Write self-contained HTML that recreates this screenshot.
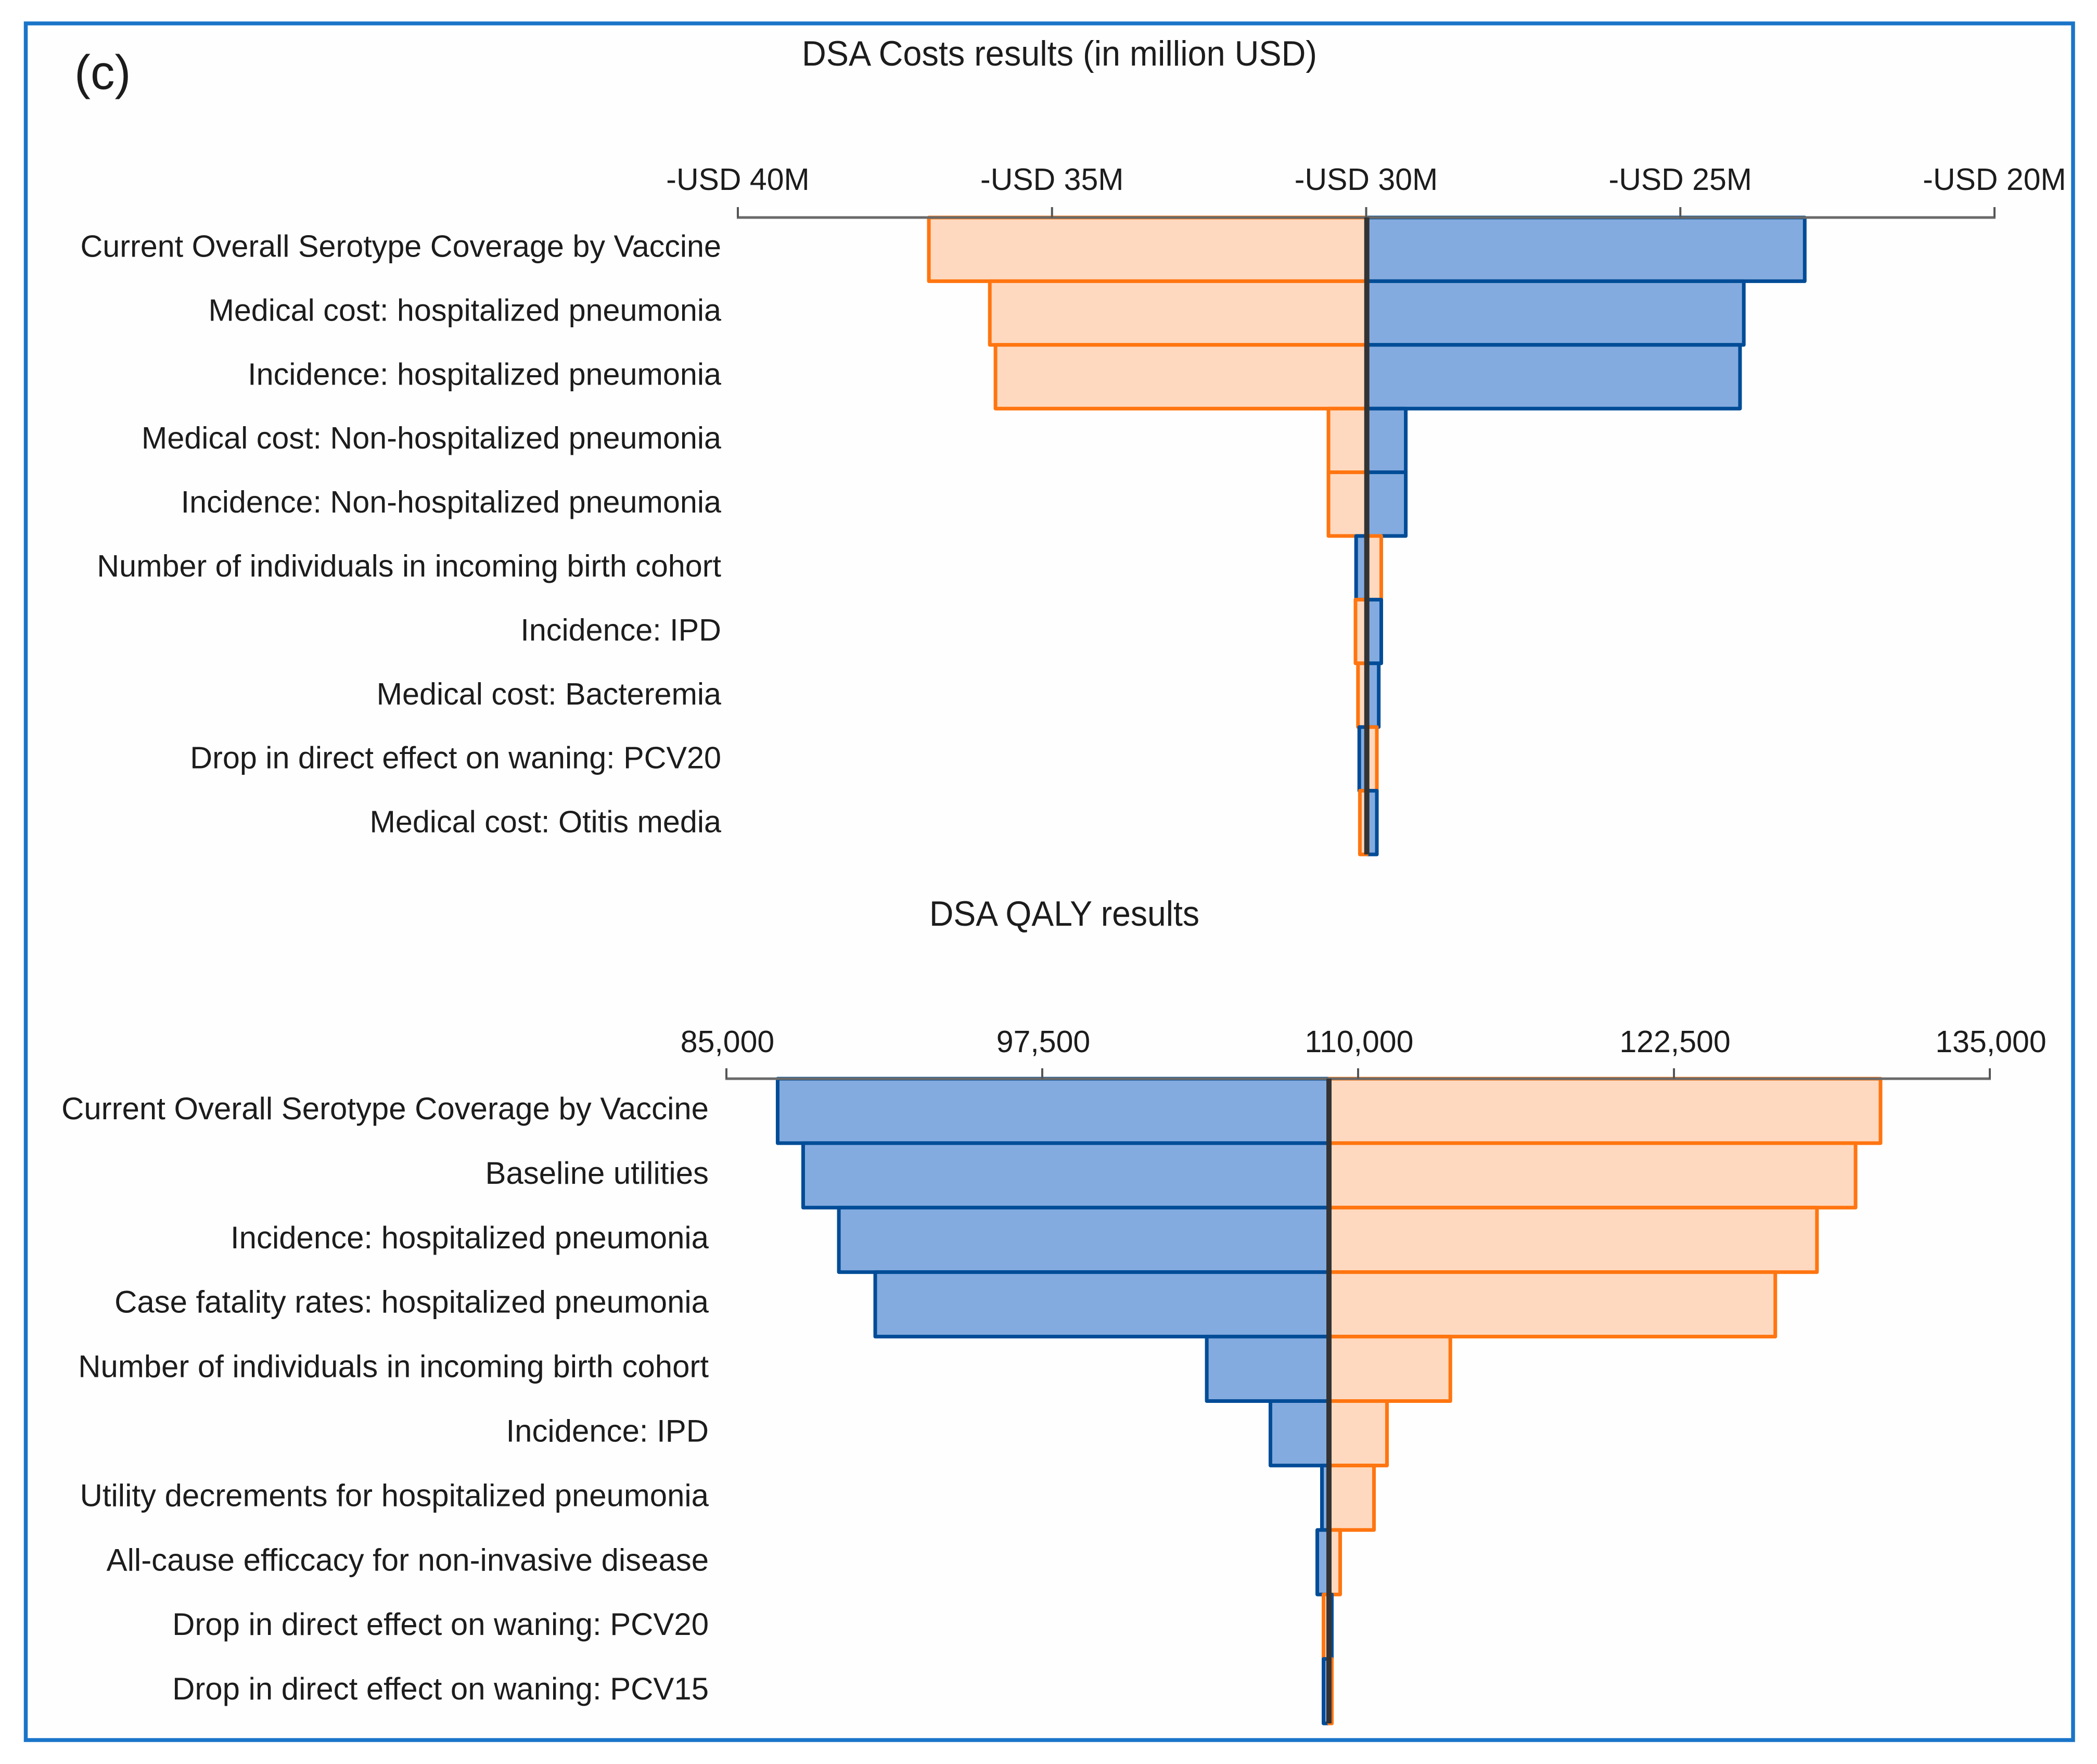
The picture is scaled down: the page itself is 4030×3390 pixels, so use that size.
<!DOCTYPE html>
<html lang="en">
<head>
<meta charset="utf-8">
<title>DSA tornado charts</title>
<style>
html,body{margin:0;padding:0;background:#fff;width:4030px;height:3390px;overflow:hidden}
svg{display:block}
text{font-family:"Liberation Sans",Arial,sans-serif;fill:#1c1c1c}
</style>
</head>
<body>
<svg id="fig" xmlns="http://www.w3.org/2000/svg" width="4030" height="3390" viewBox="0 0 4030 3390">
  <rect x="0" y="0" width="4030" height="3390" fill="#ffffff"/>
  <rect x="49.5" y="45" width="3934.5" height="3299" fill="#fefefe" stroke="#1a75c9" stroke-width="7.5"/>
  <text x="143" y="171" font-size="93">(c)</text>
  <text x="1541" y="126" font-size="68" textLength="990" lengthAdjust="spacingAndGlyphs">DSA Costs results (in million USD)</text>
  <text x="1786" y="1779" font-size="68" textLength="519" lengthAdjust="spacingAndGlyphs">DSA QALY results</text>
  <g id="cost-chart"></g>
  <g id="qaly-chart"></g>
</svg>
<script>
// Cost chart data (USD millions)
const costLabels = ["Current Overall Serotype Coverage by Vaccine","Medical cost: hospitalized pneumonia","Incidence: hospitalized pneumonia","Medical cost: Non-hospitalized pneumonia","Incidence: Non-hospitalized pneumonia","Number of individuals in incoming birth cohort","Incidence: IPD","Medical cost: Bacteremia","Drop in direct effect on waning: PCV20","Medical cost: Otitis media"];
const costOrange = [-36.96,-35.99,-35.90,-30.60,-30.60,-29.76,-30.17,-30.13,-29.83,-30.10];
const costBlue = [-23.02,-23.99,-24.05,-29.37,-29.37,-30.16,-29.76,-29.80,-30.11,-29.83];
const costBase = -29.99;
const costTicks = [-40,-35,-30,-25,-20];
const costTickLabels = ["-USD 40M","-USD 35M","-USD 30M","-USD 25M","-USD 20M"];

// QALY chart data
const qalyLabels = ["Current Overall Serotype Coverage by Vaccine","Baseline utilities","Incidence: hospitalized pneumonia","Case fatality rates: hospitalized pneumonia","Number of individuals in incoming birth cohort","Incidence: IPD","Utility decrements for hospitalized pneumonia","All-cause efficcacy for non-invasive disease","Drop in direct effect on waning: PCV20","Drop in direct effect on waning: PCV15"];
const qalyBlue = [87028,88037,89450,90890,104010,106530,108569,108384,108960,108631];
const qalyOrange = [130675,129687,128160,126510,113650,111143,110628,109290,108631,108960];
const qalyBase = 108847;
const qalyTicks = [85000,97500,110000,122500,135000];
const qalyTickLabels = ["85,000","97,500","110,000","122,500","135,000"];

const NS = "http://www.w3.org/2000/svg";
function make(parent, tag, attrs, name) {
  const el = document.createElementNS(NS, tag);
  for (const k in attrs) el.setAttribute(k, attrs[k]);
  
  
  parent.appendChild(el);
  return el;
}
function drawChart(cfg) {
  const root = document.getElementById(cfg.id);
  const x = v => cfg.x0 + (v - cfg.d0) / (cfg.d1 - cfg.d0) * (cfg.x1 - cfg.x0);
  const y = i => cfg.axisY + i * cfg.rowH;
  const bar = (v, i, fill, stroke, name) => {
    const a = Math.min(x(v), x(cfg.base));
    const b = Math.max(x(v), x(cfg.base));
    make(root, 'rect', {x: a, y: y(i), width: b - a, height: cfg.rowH, fill: fill, stroke: stroke, 'stroke-width': 7, 'stroke-linejoin': 'round'}, name);
  };
  cfg.labels.forEach((label, i) => {
    bar(cfg.blue[i], i, '#84abdf', '#004c97', cfg.prefix + '-bar-blue-' + (i + 1));
    bar(cfg.orange[i], i, '#ffd9bf', '#ff7510', cfg.prefix + '-bar-orange-' + (i + 1));
    const t = make(root, 'text', {x: cfg.labelX, y: cfg.labelY + i * cfg.labelStep, 'font-size': cfg.labelSize, 'text-anchor': 'end'}, cfg.prefix + '-category-label-' + (i + 1));
    t.textContent = label;
  });
  make(root, 'line', {x1: x(cfg.d0) - 2, x2: x(cfg.d1) + 2, y1: cfg.axisY, y2: cfg.axisY, stroke: '#6a6a6a', 'stroke-width': 5}, cfg.prefix + '-axis-line');
  cfg.ticks.forEach((tick, i) => {
    make(root, 'line', {x1: x(tick), x2: x(tick), y1: cfg.axisY - 20, y2: cfg.axisY, stroke: '#555555', 'stroke-width': 4}, cfg.prefix + '-tick-' + (i + 1));
    const t = make(root, 'text', {x: x(tick) + cfg.tickDx, y: cfg.tickY, 'font-size': 59, 'text-anchor': 'middle'}, cfg.prefix + '-tick-label-' + (i + 1));
    t.textContent = cfg.tickLabels[i];
  });
  const bx = x(cfg.base);
  make(root, 'line', {x1: bx, x2: bx, y1: cfg.axisY, y2: y(cfg.labels.length), stroke: '#333333', 'stroke-width': 10}, cfg.prefix + '-baseline');
}
drawChart({id: 'cost-chart', prefix: 'cost', labels: costLabels, blue: costBlue, orange: costOrange, base: costBase, ticks: costTicks, tickLabels: costTickLabels,
  d0: -40, d1: -20, x0: 1418, x1: 3833, axisY: 418, rowH: 122.4, labelX: 1386, labelY: 493.5, labelStep: 122.9, labelSize: 59.3, tickDx: 0, tickY: 365});
drawChart({id: 'qaly-chart', prefix: 'qaly', labels: qalyLabels, blue: qalyBlue, orange: qalyOrange, base: qalyBase, ticks: qalyTicks, tickLabels: qalyTickLabels,
  d0: 85000, d1: 135000, x0: 1396, x1: 3824, axisY: 2073, rowH: 123.9, labelX: 1362, labelY: 2151, labelStep: 123.9, labelSize: 59.9, tickDx: 2, tickY: 2022});
</script>
</body>
</html>
